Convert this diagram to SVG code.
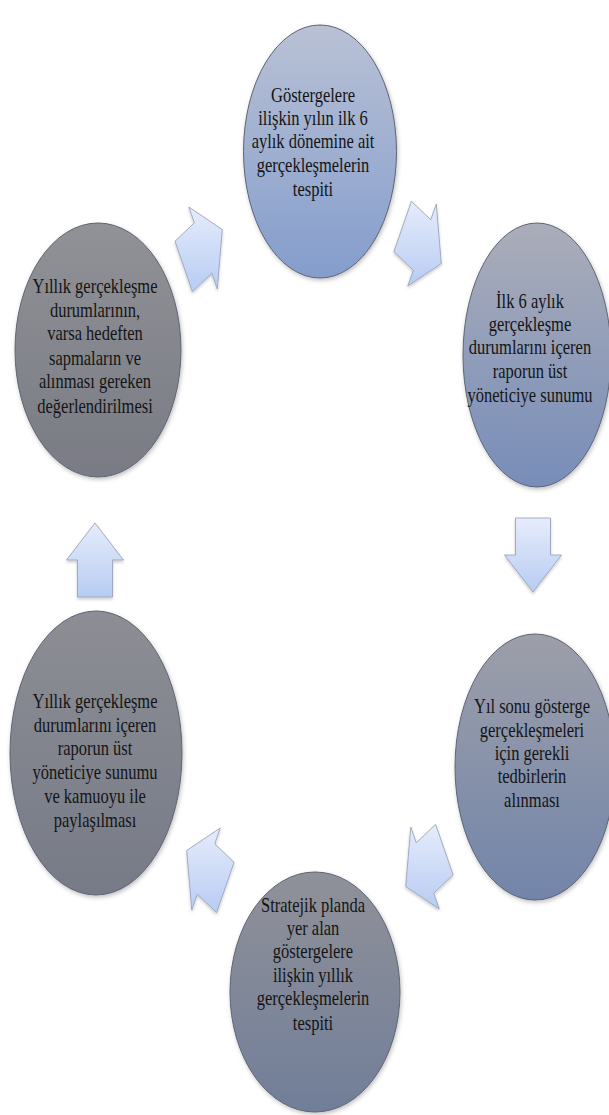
<svg xmlns="http://www.w3.org/2000/svg" width="609" height="1115" viewBox="0 0 609 1115">
<defs>
<style>
.node ellipse{stroke:#5d6474;stroke-width:1;filter:url(#sh)}
.arrow polygon{fill:url(#ga);stroke:#9aa4ba;stroke-width:0.9;filter:url(#sh2)}
.lbl{font-family:'Liberation Serif','DejaVu Serif',serif;font-size:22px;fill:#141414;text-anchor:middle}
</style>
<filter id="sh" x="-20%" y="-20%" width="140%" height="140%"><feDropShadow dx="1" dy="2" stdDeviation="2" flood-color="#000" flood-opacity="0.25"/></filter>
<filter id="sh2" x="-30%" y="-30%" width="160%" height="160%"><feDropShadow dx="0" dy="2" stdDeviation="1.5" flood-color="#000" flood-opacity="0.2"/></filter>
<linearGradient id="ga" x1="0" y1="0" x2="0" y2="1"><stop offset="0" stop-color="#e6ecfb"/><stop offset="1" stop-color="#b7ccf3"/></linearGradient>
<linearGradient id="g1" x1="0" y1="0" x2="0" y2="1"><stop offset="0" stop-color="#b9c1d5"/><stop offset="1" stop-color="#849dcc"/></linearGradient>
<linearGradient id="g2" x1="0" y1="0" x2="0" y2="1"><stop offset="0" stop-color="#abadb9"/><stop offset="1" stop-color="#778db9"/></linearGradient>
<linearGradient id="g3" x1="0" y1="0" x2="0" y2="1"><stop offset="0" stop-color="#9d9fa9"/><stop offset="1" stop-color="#7285aa"/></linearGradient>
<linearGradient id="g4" x1="0" y1="0" x2="0" y2="1"><stop offset="0" stop-color="#909199"/><stop offset="1" stop-color="#717e99"/></linearGradient>
<linearGradient id="g5" x1="0" y1="0" x2="0" y2="1"><stop offset="0" stop-color="#8d8e94"/><stop offset="1" stop-color="#767b87"/></linearGradient>
<linearGradient id="g6" x1="0" y1="0" x2="0" y2="1"><stop offset="0" stop-color="#919297"/><stop offset="1" stop-color="#797b84"/></linearGradient>
</defs>
<rect width="609" height="1115" fill="#ffffff"/>

<g id="connectors" class="arrow">
<polygon points="411.4,201.3 430.8,219.8 436.3,204 441.3,263.5 407.8,286 413.3,270.2 393.9,251.7"/>
<polygon points="550.5,518 550.5,555 561.5,555 533,592 504.5,555 515.5,555 515.5,518"/>
<polygon points="453.1,874.7 433.8,893.2 439.3,909 405.7,886.5 410.8,827 416.3,842.8 435.6,824.3"/>
<polygon points="216.6,912.7 197.3,894.2 191.8,910 186.7,850.5 220.3,828 214.8,843.8 234.1,862.3"/>
<polygon points="77.5,597 77.5,560 66.5,560 95,523 123.5,560 112.5,560 112.5,597"/>
<polygon points="175,241.3 194.3,222.8 188.8,207 222.3,229.5 217.3,289 211.8,273.2 192.4,291.7"/>
</g>

<g id="node1" class="node">
<ellipse cx="320" cy="151.5" rx="76.5" ry="126.5" fill="url(#g1)"/>
<g class="lbl" font-family="Liberation Serif, DejaVu Serif, serif" transform="translate(313 0) scale(0.75 1)">
<text x="0" y="102">Göstergelere</text>
<text x="0" y="125">ilişkin yılın ilk 6</text>
<text x="0" y="148">aylık dönemine ait</text>
<text x="0" y="172">gerçekleşmelerin</text>
<text x="0" y="196">tespiti</text>
</g>
</g>

<g id="node2" class="node">
<ellipse cx="537" cy="355" rx="74" ry="132" fill="url(#g2)"/>
<g class="lbl" font-family="Liberation Serif, DejaVu Serif, serif" transform="translate(530 0) scale(0.75 1)">
<text x="0" y="308">İlk 6 aylık</text>
<text x="0" y="331">gerçekleşme</text>
<text x="0" y="354">durumlarını içeren</text>
<text x="0" y="378">raporun üst</text>
<text x="0" y="402">yöneticiye sunumu</text>
</g>
</g>

<g id="node3" class="node">
<ellipse cx="535" cy="767" rx="80" ry="133" fill="url(#g3)"/>
<g class="lbl" font-family="Liberation Serif, DejaVu Serif, serif" transform="translate(532 0) scale(0.75 1)">
<text x="0" y="713">Yıl sonu gösterge</text>
<text x="0" y="737">gerçekleşmeleri</text>
<text x="0" y="760">için gerekli</text>
<text x="0" y="783">tedbirlerin</text>
<text x="0" y="807">alınması</text>
</g>
</g>

<g id="node4" class="node">
<ellipse cx="315" cy="992" rx="85" ry="120" fill="url(#g4)"/>
<g class="lbl" font-family="Liberation Serif, DejaVu Serif, serif" transform="translate(313 0) scale(0.75 1)">
<text x="0" y="912">Stratejik planda</text>
<text x="0" y="935">yer alan</text>
<text x="0" y="958">göstergelere</text>
<text x="0" y="982">ilişkin yıllık</text>
<text x="0" y="1005">gerçekleşmelerin</text>
<text x="0" y="1030">tespiti</text>
</g>
</g>

<g id="node5" class="node">
<ellipse cx="96" cy="753" rx="86" ry="142" fill="url(#g5)"/>
<g class="lbl" font-family="Liberation Serif, DejaVu Serif, serif" transform="translate(95 0) scale(0.75 1)">
<text x="0" y="708">Yıllık gerçekleşme</text>
<text x="0" y="732">durumlarını içeren</text>
<text x="0" y="755">raporun üst</text>
<text x="0" y="779">yöneticiye sunumu</text>
<text x="0" y="803">ve kamuoyu ile</text>
<text x="0" y="827">paylaşılması</text>
</g>
</g>

<g id="node6" class="node">
<ellipse cx="98" cy="350" rx="83" ry="127" fill="url(#g6)"/>
<g class="lbl" font-family="Liberation Serif, DejaVu Serif, serif" transform="translate(95 0) scale(0.75 1)">
<text x="0" y="293">Yıllık gerçekleşme</text>
<text x="0" y="317">durumlarının,</text>
<text x="0" y="340">varsa hedeften</text>
<text x="0" y="365">sapmaların ve</text>
<text x="0" y="388">alınması gereken</text>
<text x="0" y="413">değerlendirilmesi</text>
</g>
</g>
</svg>
